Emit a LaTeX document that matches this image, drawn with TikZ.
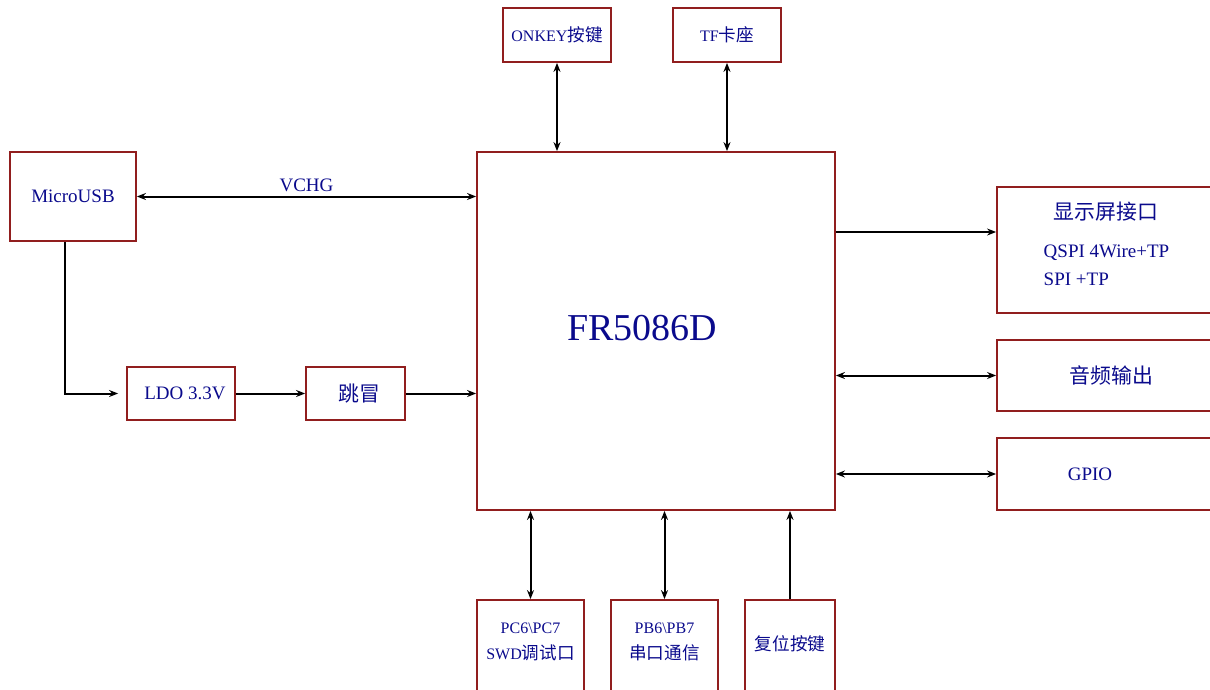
\documentclass[tikz,border=0pt]{standalone}
\usepackage{fontspec}
\setmainfont{Liberation Serif}
\newfontfamily\cjk[Scale=1.1]{Noto Sans CJK SC}
\usepackage{tikz}
\usetikzlibrary{calc, positioning, arrows.meta}
\usepackage{xcolor}
\definecolor{boxred}{RGB}{145, 30, 30}
\definecolor{txtblue}{RGB}{10, 10, 140}

\begin{document}
\begin{tikzpicture}[
  x=1pt, y=-1pt,
  blk/.style={draw=boxred, line width=1.8pt, text=txtblue, inner sep=0pt,
              align=center, font=\fontsize{19}{23}\selectfont},
  smallblk/.style={blk, font=\fontsize{16}{26}\selectfont},
  txt/.style={text=txtblue, inner sep=0pt, align=center, font=\fontsize{19}{23}\selectfont},
  smalltxt/.style={txt, font=\fontsize{16}{26}\selectfont},
  link/.style={line width=2pt, black},
  >={Stealth[length=9pt, width=7pt]}
]
  \useasboundingbox (0,0) rectangle (1210,690);

  % ── left side ──
  \node[blk, minimum width=126pt, minimum height=89pt] (usb) at (73,196.5) {MicroUSB};
  \node[blk, minimum width=108pt, minimum height=53pt] (ldo) at (181,393.5) {\hspace*{8pt}LDO 3.3V};
  \node[blk, minimum width=99pt, minimum height=53pt] (jmp) at (355.5,393.5) {\hspace*{8pt}{\cjk 跳冒}};

  % ── chip ──
  \node[blk, minimum width=358pt, minimum height=358pt] (fr) at (656,331) {};
  \node[txt, font=\fontsize{38}{44}\selectfont] (frname) at ([xshift=-14pt, yshift=3pt]fr.center) {FR5086D};

  % ── top ──
  \node[smallblk, minimum width=108pt, minimum height=54pt] (onkey) at (557,35) {ONKEY{\cjk 按键}};
  \node[smallblk, minimum width=108pt, minimum height=54pt] (tf) at (727,35) {TF{\cjk 卡座}};

  % ── right side ──
  \node[blk, minimum width=219pt, minimum height=126pt] (disp) at (1106.5,250) {};
  \node[txt, align=left, font=\fontsize{19}{28}\selectfont] (disptxt) at ([yshift=6pt]disp.center)
    {\hspace*{10pt}{\cjk 显示屏接口}\\[10pt]QSPI 4Wire+TP\\SPI +TP};
  \node[blk, minimum width=219pt, minimum height=71pt] (audio) at (1106.5,375.5) {\hspace*{10pt}{\cjk 音频输出}};
  \node[blk, minimum width=219pt, minimum height=72pt] (gpio) at (1106.5,474) {\hspace*{-33pt}GPIO};
  \coordinate (dispin) at ([yshift=18pt]disp.west);

  % ── bottom ──
  \node[smallblk, minimum width=107pt, minimum height=95pt] (swd) at (530.5,647.5) {};
  \node[smalltxt] (swdtxt) at ([yshift=6pt]swd.center) {PC6\textbackslash PC7\\SWD{\cjk 调试口}};
  \node[smallblk, minimum width=107pt, minimum height=95pt] (uart) at (664.5,647.5) {};
  \node[smalltxt] (uarttxt) at ([yshift=6pt]uart.center) {PB6\textbackslash PB7\\{\cjk 串口通信}};
  \node[smallblk, minimum width=90pt, minimum height=95pt] (rst) at (790,647.5) {};
  \node[smalltxt] (rsttxt) at ([yshift=4pt]rst.center) {{\cjk 复位按键}};

  % ── connectors ──
  \draw[link, <->] (usb.east) -- (usb.east -| fr.west)
    node[midway, txt, above=4pt] (vchg) {VCHG};
  \draw[link, ->, shorten >=8pt] ([xshift=-8pt]usb.south) |- (ldo.west);
  \draw[link, ->] (ldo.east) -- (jmp.west);
  \draw[link, ->] (jmp.east) -- (jmp.east -| fr.west);

  \draw[link, <->] (onkey.south) -- (onkey.south |- fr.north);
  \draw[link, <->] (tf.south) -- (tf.south |- fr.north);

  \draw[link, ->] (dispin -| fr.east) -- (dispin);
  \draw[link, <->] (audio.west -| fr.east) -- (audio.west);
  \draw[link, <->] (gpio.west -| fr.east) -- (gpio.west);

  \draw[link, <->] (swd.north |- fr.south) -- (swd.north);
  \draw[link, <->] (uart.north |- fr.south) -- (uart.north);
  \draw[link, ->] (rst.north) -- (rst.north |- fr.south);
\end{tikzpicture}
\end{document}
